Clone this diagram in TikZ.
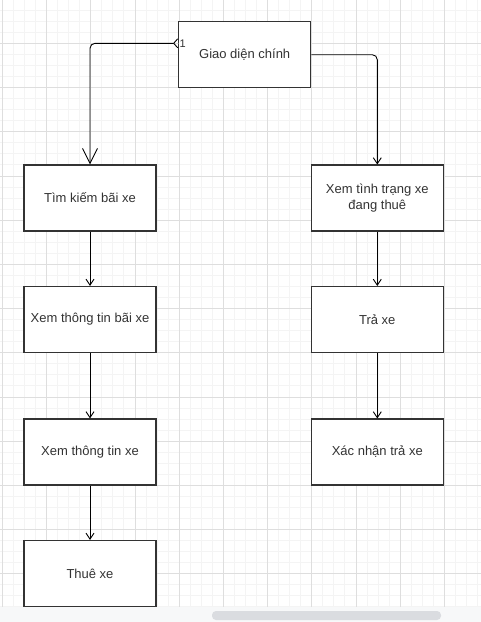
\documentclass[tikz,border=0pt]{standalone}
\usepackage{fontspec}
\setmainfont{Liberation Sans}
\usepackage{tikz}
\usetikzlibrary{arrows.meta}
\definecolor{edge}{HTML}{333333}
\definecolor{gridminor}{HTML}{F4F4F4}
\definecolor{gridmajor}{HTML}{DEDEDE}
\definecolor{barbg}{HTML}{F7F8F9}
\definecolor{thumb}{HTML}{DADCE0}

\begin{document}
\begin{tikzpicture}[x=1pt,y=-1pt,>={Straight Barb[length=6pt,width=8pt]},
  every node/.style={font=\fontsize{13}{16}\selectfont,text=edge},
  box/.style={draw=edge,fill=white,rectangle,line width=1.1pt,minimum width=132pt,minimum height=66pt,inner sep=0pt,align=center},
  link/.style={->,black,line width=0.9pt,rounded corners=5pt}]
\useasboundingbox (0,0) rectangle (481,622);
% grid
\foreach \i in {0,...,44} \draw[gridminor,line width=0.8pt] ({2.3+\i*11.05},0) -- ({2.3+\i*11.05},607);
\foreach \i in {0,...,55} \draw[gridminor,line width=0.8pt] (0,{-0.9+\i*11.05}) -- (481,{-0.9+\i*11.05});
\foreach \i in {0,...,11} \draw[gridmajor,line width=0.8pt] ({2.3+\i*44.2},0) -- ({2.3+\i*44.2},607);
\foreach \i in {1,...,14} \draw[gridmajor,line width=0.8pt] (0,{-0.9+\i*44.2}) -- (481,{-0.9+\i*44.2});
\fill[barbg] (0,607) rectangle (481,622);
\fill[thumb,rounded corners=4pt] (212,611) rectangle (441,620);
% boxes
\node[box] (main) at (244.7,54.7) {Giao diện chính};
\node[box] (search) at (90,198) {Tìm kiếm bãi xe};
\node[box] (lotinfo) at (90,319.5) {Xem thông tin bãi xe};
\node[box] (carinfo) at (90,452) {Xem thông tin xe};
\node[box] (rent) at (90,573.5) {Thuê xe};
\node[box] (status) at (377.3,198) {Xem tình trạng xe\\đang thuê};
\node[box] (return) at (377.3,319.5) {Trả xe};
\node[box] (confirm) at (377.3,452) {Xác nhận trả xe};
% links
\draw[link,{Straight Barb[reversed,length=4pt,width=9pt]}-{Straight Barb[length=15pt,width=15pt]}] ([yshift=11.4pt]main.west) -| node[pos=0,anchor=west,fill=white,inner sep=1pt,font=\fontsize{11}{11}\selectfont]{1} (search.north);
\draw[link] (main.east) -| (status.north);
\draw[link] (search) -- (lotinfo);
\draw[link] (lotinfo) -- (carinfo);
\draw[link] (carinfo) -- (rent);
\draw[link] (status) -- (return);
\draw[link] (return) -- (confirm);
\end{tikzpicture}
\end{document}
